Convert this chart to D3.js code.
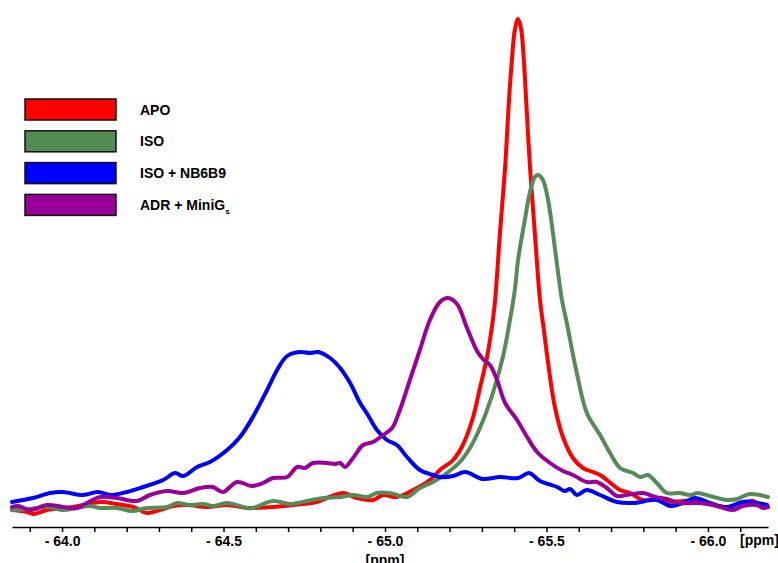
<html>
    <head>
        <title>19F NMR spectra</title>
        <style>
            body { margin: 0; background: #fff; }
            text { font-family: "Liberation Sans", Arial, sans-serif; font-weight: bold; }
        </style>
    </head>
    <body>
        <svg></svg>

        <script src="https://d3js.org/d3.v7.min.js"></script>
        <script>
            // spectra: [ppm, intensity]
            const apo = [
                [-63.845, 10], [-63.892, 8], [-63.910, 6], [-63.954, 10], [-64.015, 12], [-64.065, 15],
                [-64.118, 18], [-64.170, 16], [-64.220, 13], [-64.263, 7], [-64.303, 10], [-64.344, 14],
                [-64.387, 15], [-64.449, 13], [-64.511, 15], [-64.573, 12], [-64.591, 12], [-64.653, 13],
                [-64.715, 15], [-64.789, 18], [-64.820, 22], [-64.870, 27], [-64.913, 22], [-64.963, 20],
                [-64.994, 25], [-65.037, 23], [-65.087, 30], [-65.139, 40], [-65.170, 50], [-65.211, 60],
                [-65.241, 75], [-65.272, 102], [-65.294, 132], [-65.316, 163], [-65.334, 200], [-65.341, 220],
                [-65.356, 287], [-65.372, 353], [-65.384, 420], [-65.393, 460], [-65.402, 490], [-65.412, 501],
                [-65.421, 492], [-65.430, 460], [-65.437, 420], [-65.449, 353], [-65.464, 287], [-65.480, 220],
                [-65.492, 190], [-65.505, 157], [-65.526, 113], [-65.551, 83], [-65.582, 62], [-65.613, 52],
                [-65.644, 48], [-65.666, 45], [-65.687, 40], [-65.728, 30], [-65.759, 27], [-65.799, 20],
                [-65.842, 21], [-65.873, 18], [-65.923, 19], [-65.975, 20], [-66.016, 15], [-66.068, 13],
                [-66.099, 17], [-66.139, 19], [-66.170, 14], [-66.186, 13]
            ];
            const iso = [
                [-63.845, 10], [-63.901, 11], [-63.954, 13], [-64.003, 10], [-64.046, 12], [-64.087, 14],
                [-64.118, 12], [-64.170, 12], [-64.217, 9], [-64.263, 12], [-64.325, 13], [-64.356, 17],
                [-64.396, 15], [-64.437, 16], [-64.467, 14], [-64.511, 17], [-64.573, 12], [-64.591, 12],
                [-64.653, 19], [-64.706, 16], [-64.759, 19], [-64.808, 22], [-64.861, 23], [-64.901, 25],
                [-64.944, 23], [-64.975, 27], [-65.015, 27], [-65.068, 23], [-65.108, 32], [-65.149, 38],
                [-65.192, 47], [-65.232, 58], [-65.263, 72], [-65.294, 92], [-65.334, 127], [-65.365, 163],
                [-65.387, 200], [-65.402, 230], [-65.412, 260], [-65.433, 300], [-65.449, 328], [-65.464, 343],
                [-65.474, 345], [-65.489, 340], [-65.505, 320], [-65.520, 287], [-65.536, 247], [-65.548, 220],
                [-65.563, 197], [-65.594, 147], [-65.625, 107], [-65.666, 85], [-65.697, 67], [-65.728, 52],
                [-65.768, 47], [-65.790, 43], [-65.814, 45], [-65.842, 37], [-65.873, 27], [-65.913, 27],
                [-65.944, 25], [-65.969, 27], [-66.006, 24], [-66.059, 20], [-66.090, 21], [-66.130, 26],
                [-66.186, 23]
            ];
            const isoNb = [
                [-63.845, 18], [-63.910, 22], [-63.963, 27], [-64.003, 28], [-64.065, 25], [-64.111, 28],
                [-64.149, 25], [-64.201, 28], [-64.251, 33], [-64.313, 40], [-64.350, 47], [-64.375, 44],
                [-64.418, 53], [-64.458, 58], [-64.511, 70], [-64.551, 83], [-64.591, 103], [-64.635, 130],
                [-64.666, 150], [-64.697, 164], [-64.737, 168], [-64.768, 167], [-64.793, 168], [-64.830, 162],
                [-64.861, 152], [-64.892, 137], [-64.923, 117], [-64.947, 105], [-64.975, 90], [-65.006, 80],
                [-65.037, 75], [-65.068, 63], [-65.108, 50], [-65.149, 45], [-65.170, 43], [-65.211, 44],
                [-65.248, 48], [-65.303, 41], [-65.356, 43], [-65.412, 42], [-65.446, 47], [-65.480, 39],
                [-65.533, 33], [-65.557, 29], [-65.573, 31], [-65.594, 25], [-65.625, 30], [-65.666, 25],
                [-65.718, 18], [-65.768, 17], [-65.842, 20], [-65.882, 14], [-65.923, 17], [-65.960, 22],
                [-66.006, 17], [-66.059, 13], [-66.108, 18], [-66.152, 17], [-66.183, 15]
            ];
            const adrMiniGs = [
                [-63.845, 13], [-63.864, 14], [-63.901, 10], [-63.954, 15], [-64.003, 13], [-64.046, 12],
                [-64.077, 17], [-64.118, 23], [-64.170, 22], [-64.232, 19], [-64.272, 25], [-64.325, 29],
                [-64.375, 27], [-64.427, 32], [-64.467, 33], [-64.498, 28], [-64.542, 38], [-64.588, 34],
                [-64.622, 37], [-64.653, 42], [-64.697, 43], [-64.728, 53], [-64.752, 52], [-64.777, 57],
                [-64.820, 57], [-64.845, 56], [-64.861, 57], [-64.876, 53], [-64.901, 62], [-64.932, 75],
                [-64.963, 78], [-64.994, 85], [-65.022, 92], [-65.046, 110], [-65.077, 140], [-65.108, 170],
                [-65.139, 200], [-65.170, 218], [-65.195, 222], [-65.223, 216], [-65.254, 192], [-65.285, 169],
                [-65.303, 161], [-65.325, 155], [-65.347, 140], [-65.372, 117], [-65.409, 100], [-65.440, 83],
                [-65.471, 68], [-65.511, 57], [-65.551, 49], [-65.582, 45], [-65.625, 38], [-65.656, 38],
                [-65.687, 32], [-65.718, 24], [-65.749, 25], [-65.799, 27], [-65.836, 23], [-65.873, 21],
                [-65.913, 17], [-65.975, 17], [-66.016, 15], [-66.077, 10], [-66.108, 14], [-66.152, 15],
                [-66.170, 12], [-66.186, 13]
            ];

            const seriesNames = ["APO", "ISO", "ISO + NB6B9", "ADR + MiniG"];
            const seriesColors = ["#ff0000", "#558b55", "#0000ff", "#990099"];
            const majorTicks = [-64.0, -64.5, -65.0, -65.5, -66.0];
            const minorTicks = [-63.9, -64.1, -64.2, -64.3, -64.4, -64.6, -64.7, -64.8, -64.9,
                                -65.1, -65.2, -65.3, -65.4, -65.6, -65.7, -65.8, -65.9, -66.1];

            window.onload = function() {
                const width = 778;
                const height = 563;

                const svg = d3.select("svg")
                    .attr("width", width)
                    .attr("height", height);

                // ppm axis runs right to left
                const x = d3.scaleLinear()
                    .domain([-63.845, -66.186])
                    .range([12, 768]);
                const y = d3.scaleLinear()
                    .domain([0, 500])
                    .range([520, 20]);

                const axisY = 527;

                // minor ticks (no labels)
                svg.append("g")
                    .attr("transform", "translate(0," + axisY + ")")
                    .call(d3.axisBottom(x).tickValues(minorTicks).tickFormat("").tickSize(5).tickSizeOuter(0))
                    .call(g => g.select(".domain").remove())
                    .call(g => g.selectAll("line").attr("stroke-width", 1.5));

                // major ticks + labels
                const ax = svg.append("g")
                    .attr("transform", "translate(0," + axisY + ")")
                    .call(d3.axisBottom(x)
                        .tickValues(majorTicks)
                        .tickFormat(function(d) { return "- " + Math.abs(d).toFixed(1); })
                        .tickSize(5)
                        .tickSizeOuter(0)
                        .tickPadding(4));
                ax.select(".domain").attr("stroke-width", 1.5);
                ax.selectAll("line").attr("stroke-width", 1.5);
                ax.selectAll("text")
                    .attr("font-size", 14)
                    .attr("font-family", null)
                    .attr("fill", "#000");

                svg.append("text")
                    .attr("x", 740)
                    .attr("y", 545)
                    .attr("font-size", 14)
                    .text("[ppm]");
                svg.append("text")
                    .attr("x", x(-65.0))
                    .attr("y", 565)
                    .attr("text-anchor", "middle")
                    .attr("font-size", 14)
                    .text("[ppm]");

                const line = d3.line()
                    .x(function(d) { return x(d[0]); })
                    .y(function(d) { return y(d[1]); })
                    .curve(d3.curveCatmullRom.alpha(0.5));

                const data = [apo, iso, isoNb, adrMiniGs];
                svg.append("g")
                    .selectAll("path")
                    .data(data)
                    .join("path")
                    .attr("d", line)
                    .attr("fill", "none")
                    .attr("stroke", function(d, i) { return seriesColors[i]; })
                    .attr("stroke-width", 4)
                    .attr("stroke-linejoin", "round")
                    .attr("stroke-linecap", "round");

                // legend
                const legend = svg.append("g");
                const rows = legend.selectAll("g")
                    .data(seriesNames)
                    .join("g")
                    .attr("transform", function(d, i) { return "translate(25," + (99 + i * 31.8) + ")"; });
                rows.append("rect")
                    .attr("width", 91)
                    .attr("height", 21)
                    .attr("fill", function(d, i) { return seriesColors[i]; })
                    .attr("stroke", "#111")
                    .attr("stroke-width", 1.5);
                const labels = rows.append("text")
                    .attr("x", 115)
                    .attr("y", 15.5)
                    .attr("font-size", 14)
                    .text(function(d) { return d; });
                labels.filter(function(d) { return d === "ADR + MiniG"; })
                    .append("tspan")
                    .attr("font-size", 8)
                    .attr("dy", 4)
                    .text("s");
            };
        </script>
    </body>
</html>
